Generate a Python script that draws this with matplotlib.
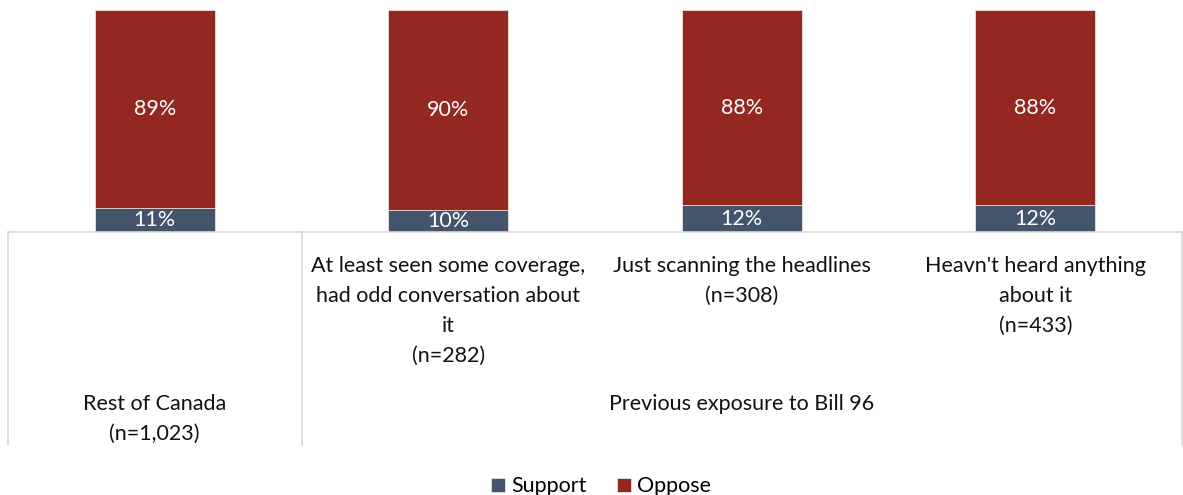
import matplotlib.pyplot as plt
from matplotlib.transforms import blended_transform_factory

plt.rcParams['font.family'] = ['Lato', 'DejaVu Sans']

categories = [
    'Rest of Canada\n(n=1,023)',
    'At least seen some coverage,\nhad odd conversation about\nit\n(n=282)',
    'Just scanning the headlines\n(n=308)',
    "Heavn't heard anything\nabout it\n(n=433)",
]
group_label = 'Previous exposure to Bill 96'
support = [11, 10, 12, 12]
oppose = [89, 90, 88, 88]

support_color = '#44546A'
oppose_color = '#922820'
grid_color = '#D9D9D9'
fs = 15.5

fig = plt.figure(figsize=(11.83, 4.95), dpi=100)
ax = fig.add_axes([8 / 1183, 1 - 232 / 495, 1174 / 1183, 222 / 495])

x = list(range(len(categories)))
w = 0.41
b1 = ax.bar(x, support, w, color=support_color, label='Support',
            edgecolor='white', linewidth=0.4)
b2 = ax.bar(x, oppose, w, bottom=support, color=oppose_color, label='Oppose',
            edgecolor='white', linewidth=0.4)

for i in x:
    ax.text(i, support[i] / 2, f'{support[i]}%', ha='center', va='center',
            color='white', fontsize=fs)
    ax.text(i, support[i] + oppose[i] / 2, f'{oppose[i]}%', ha='center',
            va='center', color='white', fontsize=fs)

ax.set_xlim(-0.5, len(categories) - 0.5)
ax.set_ylim(0, 100)
ax.set_xticks([])
ax.set_yticks([])
for s in ['top', 'left', 'right']:
    ax.spines[s].set_visible(False)
ax.spines['bottom'].set_color(grid_color)
ax.spines['bottom'].set_linewidth(1.2)

# two-level category axis: separators and labels below the plot
trans = blended_transform_factory(ax.transData, ax.transAxes)
for xs in [-0.5, 0.5, len(categories) - 0.5]:
    ax.plot([xs, xs], [0, -213 / 222], transform=trans, color=grid_color,
            lw=1.2, clip_on=False)

ax.text(0, -162 / 222, categories[0], transform=trans, ha='center', va='top',
        fontsize=fs, linespacing=1.62, color='#111111')
for i in range(1, len(categories)):
    ax.text(i, -24 / 222, categories[i], transform=trans, ha='center', va='top',
            fontsize=fs, linespacing=1.62, color='#111111')
ax.text(2, -162 / 222, group_label, transform=trans, ha='center', va='top',
        fontsize=fs, color='#111111')

fig.legend(handles=[b1, b2], loc='lower center', bbox_to_anchor=(0.508, -0.042),
           ncol=2, frameon=False, fontsize=fs, handlelength=0.65,
           handleheight=0.65, handletextpad=0.3, columnspacing=1.4)

fig.savefig('out.png', dpi=100)
